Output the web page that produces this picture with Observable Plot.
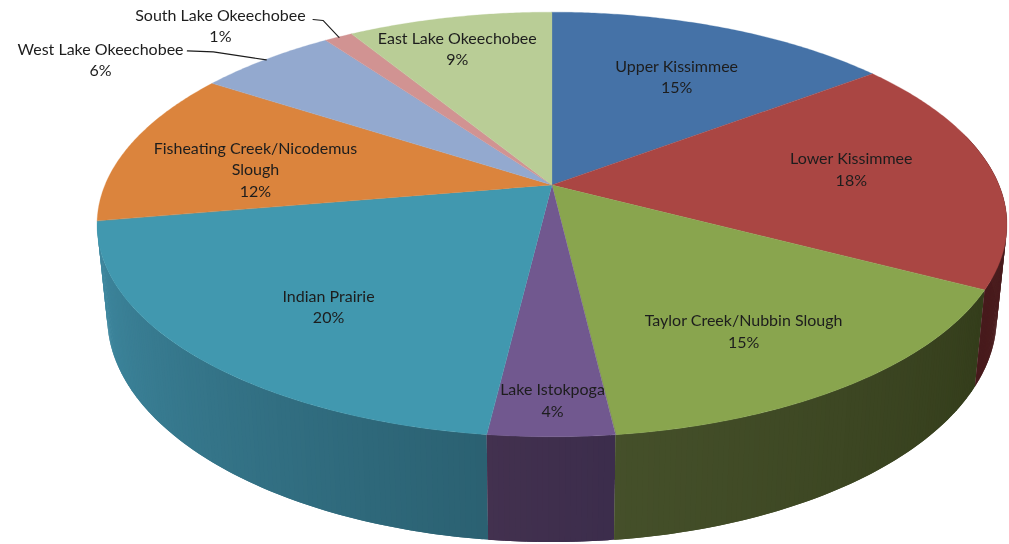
<!DOCTYPE html>
<html>
<head>
<meta charset="utf-8">
<script src="https://cdn.jsdelivr.net/npm/d3@7"></script>
<script src="https://cdn.jsdelivr.net/npm/@observablehq/plot@0.6"></script>
<style>html,body{margin:0;padding:0;background:#fff;overflow:hidden}svg{display:block;filter:blur(0.45px)}</style>
</head>
<body>
<script>
// Data
const regions = ["Upper Kissimmee","Lower Kissimmee","Taylor Creek/Nubbin Slough","Lake Istokpoga","Indian Prairie","Fisheating Creek/Nicodemus Slough","West Lake Okeechobee","South Lake Okeechobee","East Lake Okeechobee"];
const shares = [14.7,18.05,15.4,3.75,20.4,11.9,5.9,1.2,8.7];
const labelLines = ["Upper Kissimmee","Lower Kissimmee","Taylor Creek/Nubbin Slough","Lake Istokpoga","Indian Prairie","Fisheating Creek/Nicodemus\nSlough","West Lake Okeechobee","South Lake Okeechobee","East Lake Okeechobee"];
const faceColors = ["#4572A7","#AA4643","#89A54E","#71588F","#4198AF","#DB843D","#93A9CF","#D19392","#B9CD96"];
const wallStart = ["#2b4668","#4d1f20","#343d1b","#3c2d4c","#2b6172","#8a5226","#5c6b84","#85605f","#76835f"];
const wallEnd = ["#2b4668","#471a1c","#45502a","#43314f","#3f8aa2","#8a5226","#5c6b84","#85605f","#76835f"];
// Layout of the labels, in pie coordinates (angle clockwise from the top, fraction of radius)
const labelAngle = [27.6,83.3,149,180,220.3,276.7,301.3,316.4,342.3];
const labelRadius = [.665,.683,.733,.877,.698,.679,1.336,1.26,.80];
const leaderOffsets = {6:[[-79,-9],[-53,-8],[0,0]], 7:[[-26,-18],[-16,-17],[0,0]]};

// Perspective projection of the pie disc onto the page
const k = 0.1859;
const top_ = {cx:552, cy:185, R:447, B:205};
const bottom = {cx:552, cy:275, R:437, B:217.4};
function project(deg, r, d) {
  const a = deg*Math.PI/180, u = r*Math.sin(a), v = -r*Math.cos(a), w = 1-k*v;
  return [d.cx + d.R*u/w, d.cy + d.B*v/w];
}
const total = d3.sum(shares);
const toDeg = s => s/total*360;
let acc = 0;
const slices = regions.map((name,i)=>{
  const start = toDeg(acc); acc += shares[i];
  return {i,name,start,end:toDeg(acc),mid:(start+toDeg(acc))/2};
});

// Top face rows: fan from the apex to the arc
const faceRows = slices.flatMap(s=>{
  const n = Math.max(4,Math.ceil((s.end-s.start)/0.5));
  return d3.range(n+1).map(j=>{
    const [x,y] = project(s.start+(s.end-s.start)*j/n,1,top_);
    return {slice:s.i,x,y,x0:top_.cx,y0:top_.cy,color:faceColors[s.i]};
  });
});

// Side wall rows: shaded strips between both rims; each strip overlaps the next to avoid seams
const wallLast = slices[4].end;
const wallRows = slices.flatMap(s=>{
  const lo = Math.max(s.start,75), hi = Math.min(s.end,wallLast);
  if (hi<=lo) return [];
  const n = Math.ceil((hi-lo)/0.6), mix = d3.interpolateRgb(wallStart[s.i],wallEnd[s.i]);
  return d3.range(n).flatMap(j=>{
    const step = (hi-lo)/n, a0 = lo+step*j, a1 = Math.min(hi,a0+step*2), t = (j+.5)/n;
    return [a0,a1].map(a=>{
      const [x1,y1]=project(a,1,top_), [x2,y2]=project(a,1,bottom);
      return {strip:s.i+"-"+j,x1,y1,x2,y2,color:mix(t)};
    });
  });
}).reverse();

const pct = d3.format(".0%");
const labels = slices.map(s=>{
  const [x,y] = project(labelAngle[s.i],labelRadius[s.i],top_);
  return {x,y,text:labelLines[s.i]+"\n"+pct(shares[s.i]/total)};
});
const leaders = Object.entries(leaderOffsets).flatMap(([i,offs])=>{
  const [ex,ey] = project(slices[+i].mid,1,top_);
  return offs.map(([dx,dy])=>({i,x:ex+dx,y:ey+dy}));
});

const chart = Plot.plot({
  width:1009, height:544, margin:0,
  style:{background:"#fff"},
  x:{type:"linear",domain:[0,1009],range:[0,1009],axis:null},
  y:{type:"linear",domain:[0,544],range:[0,544],axis:null},
  color:{type:"identity"},
  marks:[
    Plot.area(wallRows,{x1:"x1",y1:"y1",x2:"x2",y2:"y2",z:"strip",fill:"color",curve:"linear"}),
    Plot.area(faceRows,{x1:"x0",y1:"y0",x2:"x",y2:"y",z:"slice",fill:"color",stroke:"color",strokeWidth:0.3,curve:"linear"}),
    Plot.line(leaders,{x:"x",y:"y",z:"i",stroke:"#1c1c1c",strokeWidth:1.1,curve:"linear"}),
    Plot.text(labels,{x:"x",y:"y",dy:-1,text:"text",fill:"#1d1d1d",fontSize:16,lineHeight:1.36,fontFamily:"Lato",textAnchor:"middle",lineAnchor:"middle"})
  ]
});
document.body.appendChild(chart);
</script>
</body>
</html>
